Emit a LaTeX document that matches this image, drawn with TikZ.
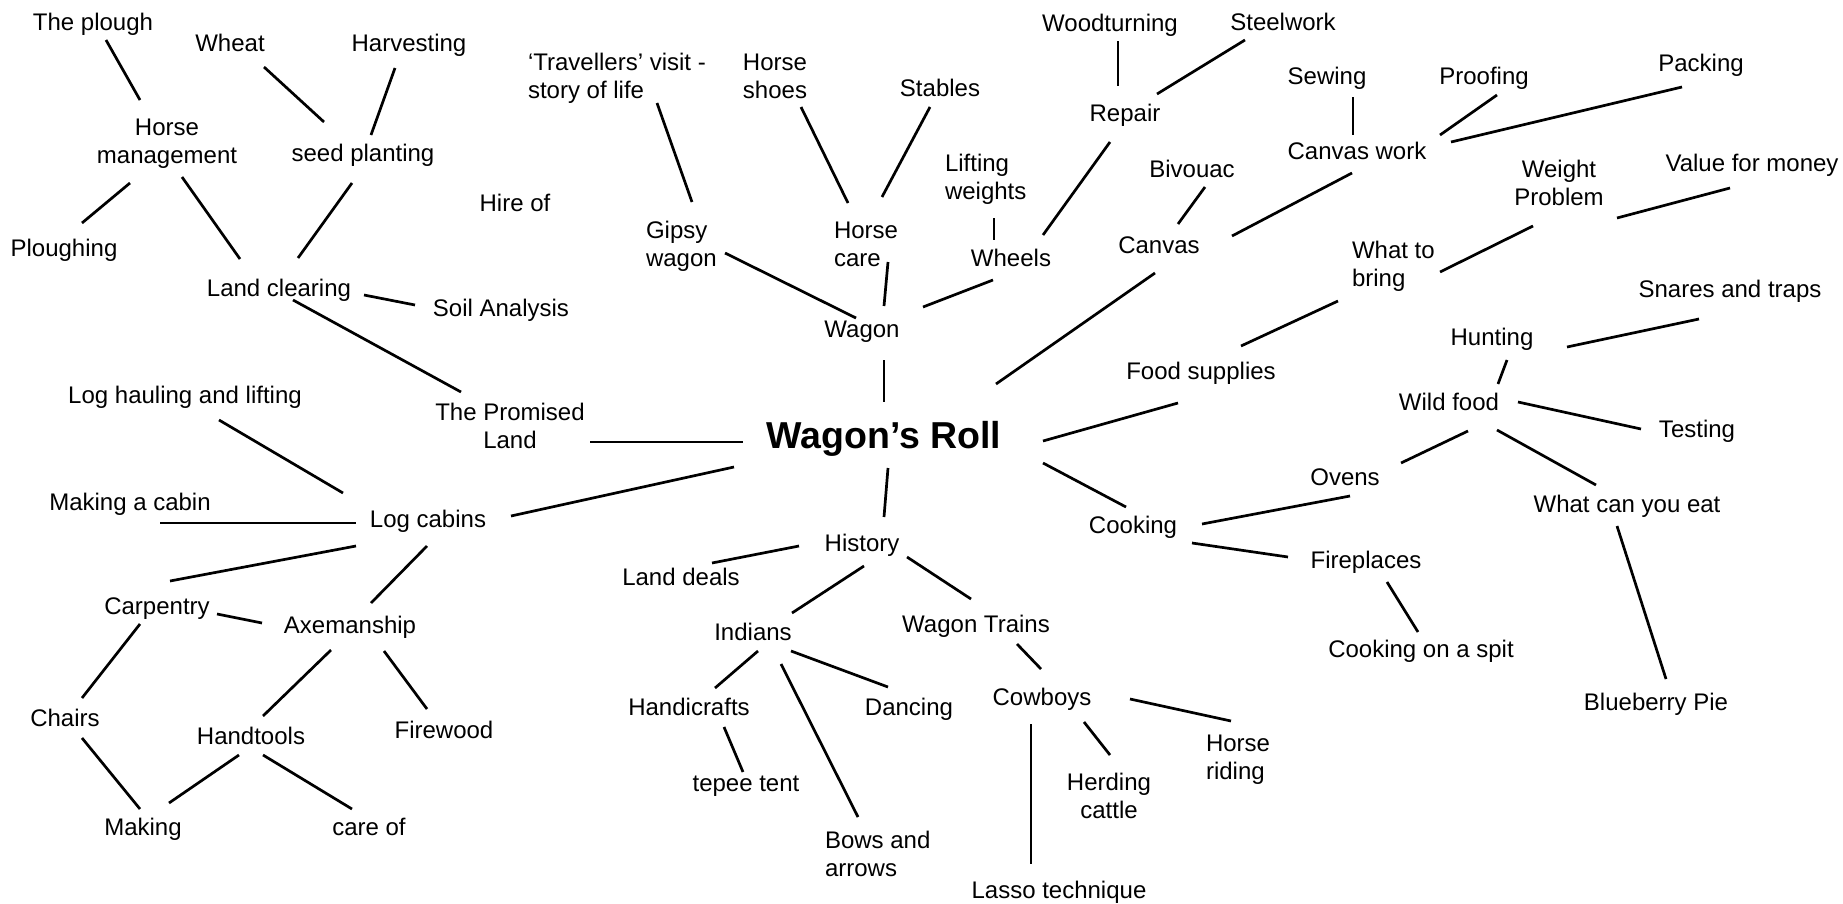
\documentclass[tikz,border=0pt]{standalone}
\usepackage{fontspec}
\setmainfont{Liberation Sans}
\usetikzlibrary{calc}
\newcommand\txtf{\fontsize{24bp}{28.5bp}\selectfont}
\newcommand\rollf{\fontsize{37.5bp}{42bp}\selectfont\bfseries}
\newcommand\cn[4]{\draw[con] ($(#1)+(#2)$) -- ($(#3)+(#4)$);}
\begin{document}
\begin{tikzpicture}[x=1bp,y=-1bp,
  lbl/.style={inner sep=0pt, outer sep=0pt, anchor=base, font=\txtf},
  lblc/.style={lbl, align=center},
  lbll/.style={lbl, anchor=base west, align=left},
  rootlbl/.style={inner sep=0pt, outer sep=0pt, anchor=base, font=\rollf},
  con/.style={line width=2.7bp, line cap=butt, black}]
\useasboundingbox[fill=white] (0,0) rectangle (1843,904);
% ---- nodes: left cluster (multi-line nodes are anchored at their last baseline)
\node[lbl] (plough) at (93,30) {The plough};
\node[lbl] (wheat) at (230,51) {Wheat};
\node[lbl] (harvest) at (409,51) {Harvesting};
\node[lblc] (horsemgmt) at (167,163.5) {Horse\\management};
\node[lbl] (seed) at (363,161) {seed planting};
\node[lbl] (hire) at (515,211) {Hire of};
\node[lbl] (ploughing) at (64,256) {Ploughing};
\node[lbl] (landclear) at (279,296) {Land clearing};
\node[lbl] (soil) at (501,316) {Soil Analysis};
\node[lbl] (loghaul) at (185,403) {Log hauling and lifting};
\node[lblc] (promised) at (510,448.5) {The Promised\\Land};
\node[lbl] (makecabin) at (130,510) {Making a cabin};
\node[lbl] (logcabins) at (428,527) {Log cabins};
\node[lbl] (carpentry) at (157,614) {Carpentry};
\node[lbl] (axe) at (350,633) {Axemanship};
\node[lbl] (chairs) at (65,726) {Chairs};
\node[lbl] (handtools) at (251,744) {Handtools};
\node[lbl] (firewood) at (444,738) {Firewood};
\node[lbl] (making) at (143,835) {Making};
\node[lbl] (careof) at (369,835) {care of};
% ---- top middle
\node[lbll] (travellers) at (528,98.5) {‘Travellers’ visit -\\story of life};
\node[lblc] (horseshoes) at (775,98.5) {Horse\\shoes};
\node[lbl] (stables) at (940,96) {Stables};
\node[lbl] (woodturning) at (1110,31) {Woodturning};
\node[lbl] (steelwork) at (1283,30) {Steelwork};
\node[lbl] (repair) at (1125,121) {Repair};
\node[lbll] (lifting) at (945,199.5) {Lifting\\weights};
\node[lbl] (bivouac) at (1192,177) {Bivouac};
\node[lbll] (gipsy) at (646,266.5) {Gipsy\\wagon};
\node[lbll] (horsecare) at (834,266.5) {Horse\\care};
\node[lbl] (wheels) at (1011,266) {Wheels};
\node[lbl] (canvas) at (1159,253) {Canvas};
\node[lbl] (wagon) at (862,337) {Wagon};
\node[rootlbl] (roll) at (884,448) {Wagon’s Roll};
% ---- right
\node[lbl] (sewing) at (1327,84) {Sewing};
\node[lbl] (proofing) at (1484,84) {Proofing};
\node[lbl] (packing) at (1701,71) {Packing};
\node[lbl] (canvaswork) at (1357,159) {Canvas work};
\node[lblc] (weight) at (1559,205.5) {Weight\\Problem};
\node[lbl] (value) at (1752,171) {Value for money};
\node[lbll] (whattobring) at (1352,286.5) {What to\\bring};
\node[lbl] (snares) at (1730,297) {Snares and traps};
\node[lbl] (hunting) at (1492,345) {Hunting};
\node[lbl] (food) at (1201,379) {Food supplies};
\node[lbl] (wildfood) at (1449,410) {Wild food};
\node[lbl] (testing) at (1697,437) {Testing};
\node[lbl] (ovens) at (1345,485) {Ovens};
\node[lbl] (whatcaneat) at (1627,512) {What can you eat};
\node[lbl] (cooking) at (1133,533) {Cooking};
\node[lbl] (fireplaces) at (1366,568) {Fireplaces};
\node[lbl] (spit) at (1421,657) {Cooking on a spit};
\node[lbl] (blueberry) at (1656,710) {Blueberry Pie};
% ---- bottom middle
\node[lbl] (history) at (862,551) {History};
\node[lbl] (landdeals) at (681,585) {Land deals};
\node[lbl] (indians) at (753,640) {Indians};
\node[lbl] (wagontrains) at (976,632) {Wagon Trains};
\node[lbl] (handicrafts) at (689,715) {Handicrafts};
\node[lbl] (dancing) at (909,715) {Dancing};
\node[lbl] (tepee) at (746,791) {tepee tent};
\node[lbll] (bows) at (825,876.5) {Bows and\\arrows};
\node[lbl] (cowboys) at (1042,705) {Cowboys};
\node[lbll] (horseriding) at (1206,779.5) {Horse\\riding};
\node[lblc] (herding) at (1109,818.5) {Herding\\cattle};
\node[lbl] (lasso) at (1059,898) {Lasso technique};
% ---- connectors
\cn{plough.base}{13,10}{horsemgmt.base}{-27,-63.5}
\cn{wheat.base}{34,16}{seed.base}{-39,-39}
\cn{harvest.base}{-14,17}{seed.base}{8,-26}
\cn{horsemgmt.base}{-37,19.5}{ploughing.base}{18,-33}
\cn{horsemgmt.base}{15,13.5}{landclear.base}{-39,-37}
\cn{seed.base}{-11,22}{landclear.base}{19,-38}
\cn{landclear.base}{85,-1}{soil.base}{-86,-11}
\cn{landclear.base}{14,4}{promised.base}{-49,-56.5}
\cn{loghaul.base}{34,17}{logcabins.base}{-85,-34}
\cn{promised.base}{80,-6.5}{roll.base}{-141,-6}
\cn{makecabin.base}{30,13}{logcabins.base}{-72,-4}
\cn{logcabins.base}{83,-11}{roll.base}{-150,19}
\cn{logcabins.base}{-72,19}{carpentry.base}{13,-33}
\cn{logcabins.base}{-1,19}{axe.base}{21,-30}
\cn{carpentry.base}{60,0}{axe.base}{-88,-10}
\cn{carpentry.base}{-17,10}{chairs.base}{17,-28}
\cn{axe.base}{-19,17}{handtools.base}{12,-28}
\cn{axe.base}{34,18}{firewood.base}{-17,-29}
\cn{chairs.base}{17,12}{making.base}{-3,-26}
\cn{handtools.base}{-12,11}{making.base}{26,-32}
\cn{handtools.base}{12,11}{careof.base}{-17,-26}
\cn{travellers.base west}{129,4.5}{gipsy.base west}{46,-64.5}
\cn{horseshoes.base}{26,8.5}{horsecare.base west}{14,-63.5}
\cn{stables.base}{-10,11}{horsecare.base west}{48,-69.5}
\cn{woodturning.base}{8,10}{repair.base}{-7,-35}
\cn{steelwork.base}{-38,10}{repair.base}{32,-27}
\cn{repair.base}{-15,21}{wheels.base}{32,-31}
\cn{lifting.base west}{49,18.5}{wheels.base}{-17,-26}
\cn{bivouac.base}{13,10}{canvas.base}{19,-29}
\cn{canvaswork.base}{-5,14}{canvas.base}{73,-17}
\cn{gipsy.base west}{79,-13.5}{wagon.base}{-6,-19}
\cn{horsecare.base west}{54,-4.5}{wagon.base}{22,-31}
\cn{wheels.base}{-18,14}{wagon.base}{61,-30}
\cn{canvas.base}{-4,20}{roll.base}{112,-64}
\cn{wagon.base}{22,23}{roll.base}{0,-46}
\cn{roll.base}{4,20}{history.base}{22,-34}
\cn{sewing.base}{26,13}{canvaswork.base}{-4,-24}
\cn{proofing.base}{13,11}{canvaswork.base}{83,-24}
\cn{packing.base}{-19,16}{canvaswork.base}{94,-17}
\cn{value.base}{-22,17}{weight.base}{58,12.5}
\cn{weight.base}{-26,20.5}{whattobring.base west}{88,-14.5}
\cn{whattobring.base west}{-14,14.5}{food.base}{40,-33}
\cn{food.base}{-23,24}{roll.base}{159,-7}
\cn{roll.base}{159,15}{cooking.base}{-7,-26}
\cn{snares.base}{-31,22}{hunting.base}{75,2}
\cn{hunting.base}{15,15}{wildfood.base}{49,-26}
\cn{wildfood.base}{69,-8}{testing.base}{-56,-8}
\cn{wildfood.base}{19,21}{ovens.base}{56,-22}
\cn{wildfood.base}{48,20}{whatcaneat.base}{-31,-27}
\cn{whatcaneat.base}{-10,14}{blueberry.base}{10,-31}
\cn{ovens.base}{5,11}{cooking.base}{69,-9}
\cn{cooking.base}{59,10}{fireplaces.base}{-78,-11}
\cn{fireplaces.base}{21,14}{spit.base}{-3,-25}
\cn{history.base}{-63,-5}{landdeals.base}{31,-22}
\cn{history.base}{2,15}{indians.base}{39,-27}
\cn{history.base}{45,6}{wagontrains.base}{-5,-33}
\cn{indians.base}{5,11}{handicrafts.base}{26,-27}
\cn{indians.base}{28,24}{bows.base west}{33,-59.5}
\cn{indians.base}{38,11}{dancing.base}{-21,-28}
\cn{handicrafts.base}{35,12}{tepee.base}{-3,-19}
\cn{wagontrains.base}{41,12}{cowboys.base}{-1,-36}
\cn{cowboys.base}{88,-6}{horseriding.base west}{25,-58.5}
\cn{cowboys.base}{42,17}{herding.base}{1,-63.5}
\cn{cowboys.base}{-11,19}{lasso.base}{-28,-34}
\end{tikzpicture}
\end{document}
